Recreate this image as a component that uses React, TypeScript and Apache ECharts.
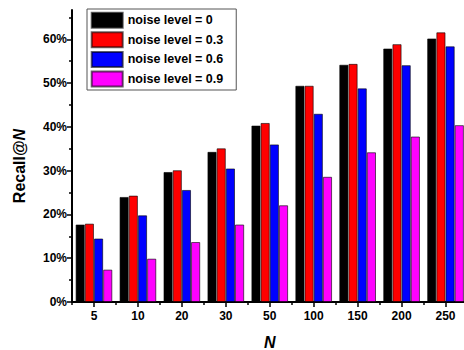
import React, { useEffect, useRef } from "react";
import * as echarts from "echarts";

const categories = ["5", "10", "20", "30", "50", "100", "150", "200", "250"];
const seriesNames = ["noise level = 0", "noise level = 0.3", "noise level = 0.6", "noise level = 0.9"];
const noise0 = [17.7, 24.0, 29.7, 34.3, 40.3, 49.4, 54.2, 57.9, 60.2];
const noise03 = [17.9, 24.3, 30.1, 35.1, 40.9, 49.4, 54.4, 58.9, 61.6];
const noise06 = [14.5, 19.8, 25.6, 30.5, 36.0, 43.0, 48.8, 54.1, 58.4];
const noise09 = [7.4, 9.9, 13.7, 17.7, 22.1, 28.6, 34.2, 37.8, 40.4];
const seriesColors = ["#000000", "#ff0000", "#0000ff", "#ff00ff"];
const yMajorTicks = [0, 10, 20, 30, 40, 50, 60];
const yMinorTicks = [5, 15, 25, 35, 45, 55, 65];
const yMax = 66.7;

const FONT = "'Liberation Sans', Arial, sans-serif";

export default function App() {
  const ref = useRef<HTMLDivElement>(null);
  useEffect(() => {
    if (!ref.current) return;
    const chart = echarts.init(ref.current, null, { renderer: "svg" });
    const allData = [noise0, noise03, noise06, noise09];
    const gridBox = { left: 72, top: 10, width: 395.5, height: 292, containLabel: false, outerBoundsMode: "none" };
    chart.setOption({
      animation: false,
      backgroundColor: "#ffffff",
      textStyle: { fontFamily: FONT },
      grid: [{ ...gridBox }, { ...gridBox }],
      legend: {
        orient: "vertical",
        left: 87,
        top: 9,
        itemWidth: 31,
        itemHeight: 15,
        itemGap: 2.6,
        padding: [2.7, 13, 2.5, 3.7],
        borderColor: "#555",
        borderWidth: 1,
        backgroundColor: "#fff",
        icon: "rect",
        textStyle: { fontFamily: FONT, fontWeight: "bold", fontSize: 12.5, color: "#000" },
        data: seriesNames,
      },
      xAxis: [
        {
          type: "category",
          gridIndex: 0,
          data: categories,
          name: "N",
          nameLocation: "middle",
          nameGap: 32,
          nameTextStyle: { fontFamily: FONT, fontWeight: "bold", fontStyle: "italic", fontSize: 16, lineHeight: 16, color: "#000" },
          axisLine: { show: true, lineStyle: { color: "#000", width: 2 } },
          axisTick: { show: true, alignWithLabel: true, length: 5, lineStyle: { color: "#000", width: 1.5 } },
          axisLabel: { color: "#000", fontFamily: FONT, fontWeight: "bold", fontSize: 12, margin: 8 },
          splitLine: { show: false },
        },
        {
          type: "category",
          gridIndex: 1,
          data: categories,
          axisLine: { show: false },
          axisTick: { show: true, length: 3, lineStyle: { color: "#000", width: 1.5 } },
          axisLabel: { show: false },
          splitLine: { show: false },
        },
      ],
      yAxis: [
        {
          type: "value",
          gridIndex: 0,
          min: 0,
          max: yMax,
          interval: 10,
          axisLine: { show: true, lineStyle: { color: "#000", width: 2 } },
          axisTick: { show: true, length: 5, customValues: yMajorTicks, lineStyle: { color: "#000", width: 1.5 } },
          axisLabel: {
            color: "#000",
            fontFamily: FONT,
            fontWeight: "bold",
            fontSize: 12,
            margin: 5,
            customValues: yMajorTicks,
            formatter: (v: number) => `${v}%`,
          },
          splitLine: { show: false },
        },
        {
          type: "value",
          gridIndex: 1,
          min: 0,
          max: yMax,
          interval: 5,
          axisLine: { show: false },
          axisTick: { show: true, length: 3, customValues: yMinorTicks, lineStyle: { color: "#000", width: 1.5 } },
          axisLabel: { show: false },
          splitLine: { show: false },
        },
      ],
      graphic: [
        {
          type: "text",
          x: 19,
          y: 166,
          rotation: Math.PI / 2,
          style: {
            text: "{a|Recall@}{b|N}",
            align: "center",
            verticalAlign: "middle",
            rich: {
              a: { fontFamily: FONT, fontWeight: "bold", fontSize: 16, fill: "#000" },
              b: { fontFamily: FONT, fontWeight: "bold", fontStyle: "italic", fontSize: 16, fill: "#000" },
            },
          },
        },
      ],
      series: seriesNames.map((name, i) => ({
        name,
        type: "bar",
        xAxisIndex: 0,
        yAxisIndex: 0,
        data: allData[i],
        barGap: "0%",
        barCategoryGap: "16.4%",
        itemStyle: { color: seriesColors[i], borderColor: "rgba(0,0,0,0.6)", borderWidth: 1 },
      })),
    });
    return () => chart.dispose();
  }, []);
  return <div ref={ref} style={{ width: 464, height: 350, position: "absolute", left: 0, top: 0 }} />;
}
